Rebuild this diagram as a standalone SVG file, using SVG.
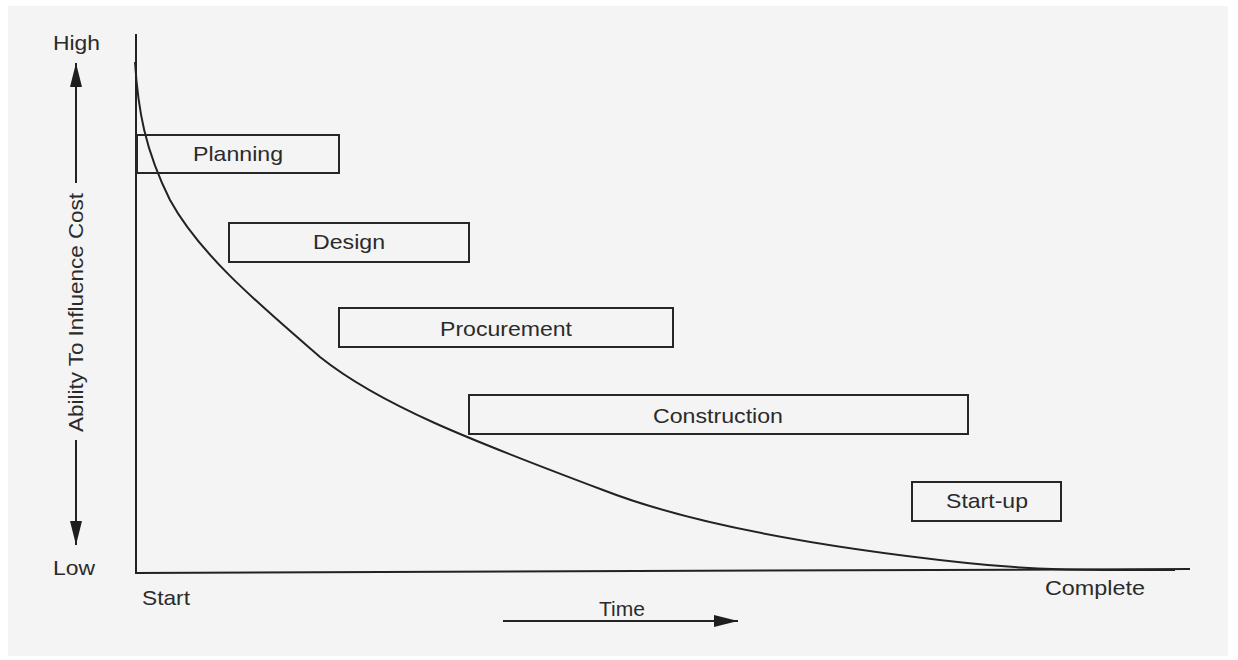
<svg xmlns="http://www.w3.org/2000/svg" width="1238" height="660" viewBox="0 0 1238 660">
  <defs>
    <style>
      .ln { stroke: #222; stroke-width: 2; fill: none; }
      .box { stroke: #262626; stroke-width: 2; fill: none; }
      .lbl { font-family: "Liberation Sans", Arial, sans-serif; font-size: 21px; fill: #2b2b2b; }
      .mid { text-anchor: middle; }
    </style>
    <marker id="head" viewBox="0 0 24 12" refX="24" refY="6" markerWidth="24" markerHeight="12" markerUnits="userSpaceOnUse" orient="auto">
      <path d="M0,0 L24,6 L0,12 Z" fill="#1e1e1e"/>
    </marker>
  </defs>

  <!-- paper -->
  <rect x="0" y="0" width="1238" height="660" fill="#ffffff"/>
  <rect x="8" y="6" width="1220" height="650" fill="#f4f4f4"/>

  <!-- axes and influence curve -->
  <g id="connectors">
    <line class="ln" x1="136" y1="34" x2="136" y2="574"/>
    <line class="ln" x1="135" y1="573" x2="1190" y2="569"/>
    <path class="ln" d="M135,62 C138,110 145,150 170,200 C200,255 260,305 320,357 C380,405 470,440 603,490 C680,520 800,545 967,563 C1040,571 1100,570 1175,570"/>
    <!-- value scale arrows -->
    <line class="ln" x1="76" y1="183" x2="76" y2="63" marker-end="url(#head)"/>
    <line class="ln" x1="76" y1="440" x2="76" y2="545" marker-end="url(#head)"/>
    <!-- time arrow -->
    <line class="ln" x1="503" y1="621" x2="738" y2="621" marker-end="url(#head)"/>
  </g>

  <!-- axis labels -->
  <g id="axis-labels">
    <text class="lbl" x="53" y="50" textLength="47" lengthAdjust="spacingAndGlyphs">High</text>
    <text class="lbl" x="53" y="575" textLength="42" lengthAdjust="spacingAndGlyphs">Low</text>
    <text class="lbl mid" transform="translate(83,312.5) rotate(-90)" x="0" y="0" textLength="239" lengthAdjust="spacingAndGlyphs">Ability To Influence Cost</text>
    <text class="lbl" x="142" y="605" textLength="48" lengthAdjust="spacingAndGlyphs">Start</text>
    <text class="lbl" x="1045" y="595" textLength="100" lengthAdjust="spacingAndGlyphs">Complete</text>
    <text class="lbl" x="599" y="616" textLength="46" lengthAdjust="spacingAndGlyphs">Time</text>
  </g>

  <!-- project phases -->
  <g id="planning">
    <rect class="box" x="137" y="135" width="202" height="38"/>
    <text class="lbl mid" x="238" y="161" textLength="90" lengthAdjust="spacingAndGlyphs">Planning</text>
  </g>
  <g id="design">
    <rect class="box" x="229" y="223" width="240" height="39"/>
    <text class="lbl mid" x="349" y="249" textLength="72" lengthAdjust="spacingAndGlyphs">Design</text>
  </g>
  <g id="procurement">
    <rect class="box" x="339" y="308" width="334" height="39"/>
    <text class="lbl mid" x="506" y="336" textLength="132" lengthAdjust="spacingAndGlyphs">Procurement</text>
  </g>
  <g id="construction">
    <rect class="box" x="469" y="395" width="499" height="39"/>
    <text class="lbl mid" x="718" y="423" textLength="130" lengthAdjust="spacingAndGlyphs">Construction</text>
  </g>
  <g id="start-up">
    <rect class="box" x="912" y="482" width="149" height="39"/>
    <text class="lbl mid" x="987" y="508" textLength="82" lengthAdjust="spacingAndGlyphs">Start-up</text>
  </g>
</svg>
